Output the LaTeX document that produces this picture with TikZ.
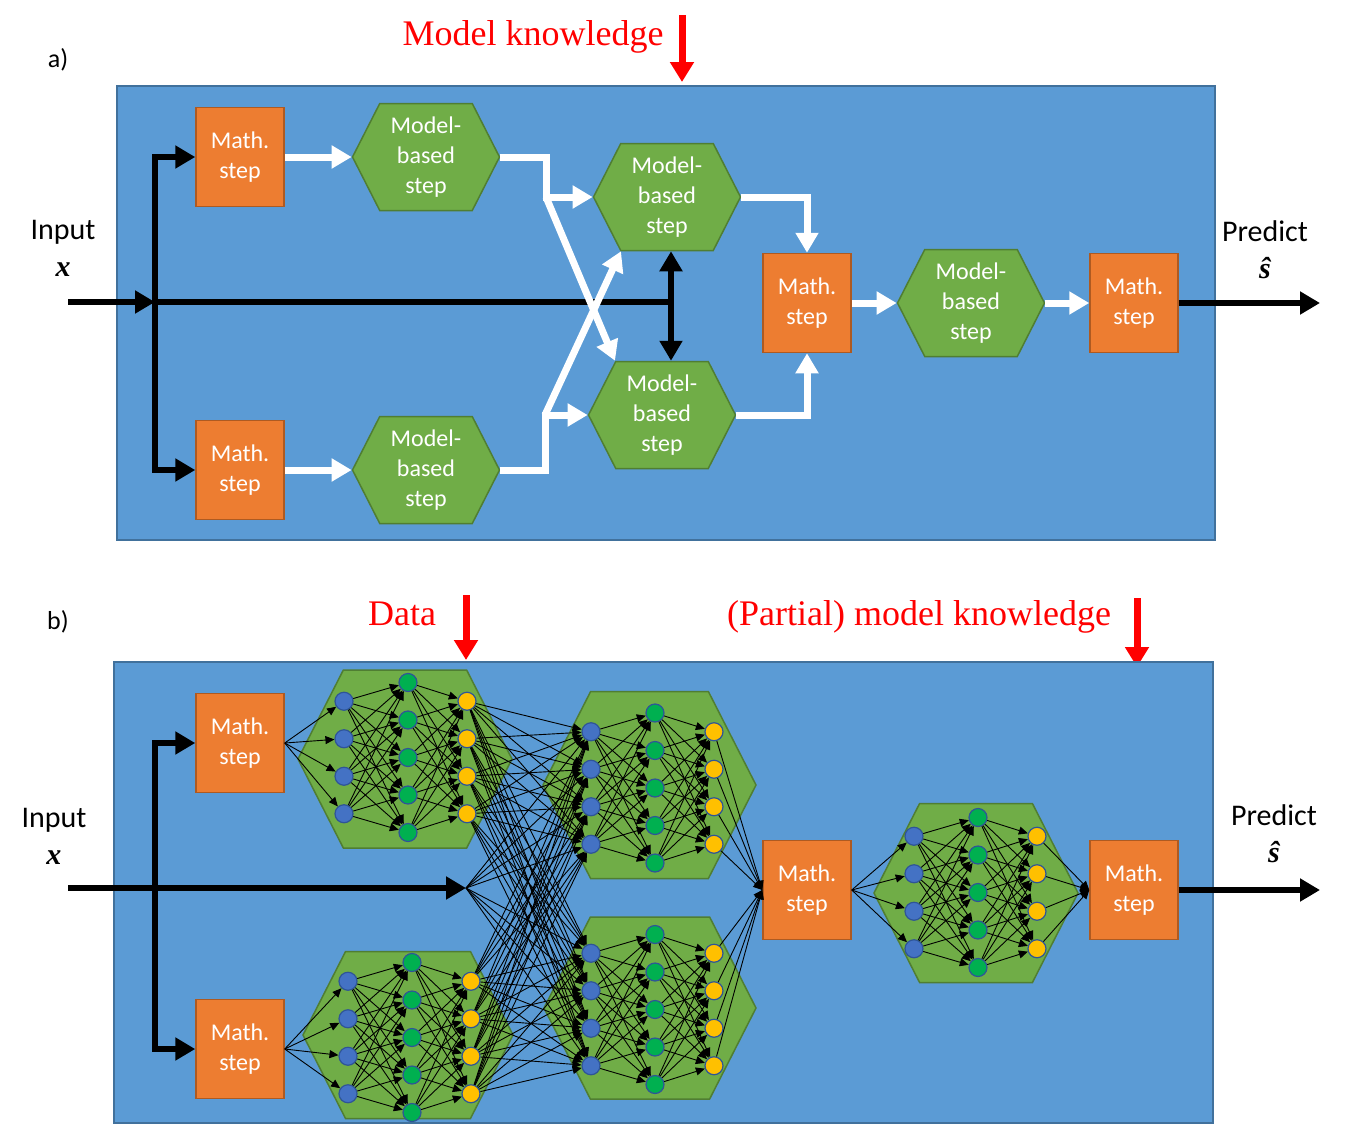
\documentclass[tikz,border=0pt]{standalone}
\usepackage{fontspec}
\setmainfont{Carlito}
\newfontfamily\knowfont{Liberation Serif}
\usetikzlibrary{arrows.meta, calc, positioning, shapes.symbols}
\definecolor{panelfill}{HTML}{5B9BD5}
\definecolor{paneledge}{HTML}{41719C}
\definecolor{mathfill}{HTML}{ED7D31}
\definecolor{mathedge}{HTML}{AE5A21}
\definecolor{hexfill}{HTML}{70AD47}
\definecolor{hexedge}{HTML}{507E32}
\definecolor{nnblue}{HTML}{4472C4}
\definecolor{nngreen}{HTML}{00B050}
\definecolor{nnyellow}{HTML}{FFC000}
\definecolor{neuronedge}{HTML}{2F5597}
\definecolor{knowred}{HTML}{FF0000}
\newcommand{\vecsym}[1]{{\knowfont\bfseries\itshape #1}}

% one small network: 4 inputs, 5 hidden, 4 outputs
\newcommand{\nnlayers}[3]{%
  \foreach \i in {1,...,4} {
    \node[neuron, fill=nnblue]   (#1in\i)  at (#2, #3-93.75+37.5*\i) {};
    \node[neuron, fill=nnyellow] (#1out\i) at (#2+123, #3-93.75+37.5*\i) {};
  }
  \foreach \j in {1,...,5}
    \node[neuron, fill=nngreen] (#1hid\j) at (#2+64, #3-112.5+37.5*\j) {};
  \foreach \i in {1,...,4}
    \foreach \j in {1,...,5} {
      \draw[link] (#1in\i) -- (#1hid\j);
      \draw[link] (#1hid\j) -- (#1out\i);
    }
}

\begin{document}
\begin{tikzpicture}[x=1pt, y=-1pt,
  panel/.style={fill=panelfill, draw=paneledge, line width=1.5pt},
  mathstep/.style={draw=mathedge, fill=mathfill, line width=1.5pt,
                   minimum width=88pt, minimum height=99pt, text=white,
                   align=center, font=\fontsize{24}{30}\selectfont},
  nnhex/.style={signal, signal to=east and west, signal pointer angle=126,
                draw=hexedge, fill=hexfill, line width=1.5pt, inner sep=0pt},
  modelstep/.style={nnhex, minimum width=147pt, minimum height=107pt,
                    text=white, align=center, font=\fontsize{24}{30}\selectfont},
  flow/.style={-{Triangle[length=20pt,width=22pt]}, line width=7pt, white},
  bflow/.style={-{Triangle[length=20pt,width=22pt]}, line width=6pt},
  bline/.style={line width=6pt},
  knowflow/.style={-{Triangle[length=20pt,width=23pt]}, line width=7pt, knowred},
  neuron/.style={circle, draw=neuronedge, line width=1.2pt, minimum size=18pt,
                 inner sep=0pt},
  link/.style={-{Triangle[length=9pt,width=8pt]}, line width=0.9pt},
  side/.style={align=center, font=\fontsize{30}{37}\selectfont},
  tag/.style={font=\fontsize{26}{30}\selectfont},
  knowtext/.style={anchor=base, text=knowred, font=\knowfont\fontsize{36}{40}\selectfont}]
  \useasboundingbox (0,0) rectangle (1345,1125);

  % a) model-based
  \node[tag] (labA) at (58,60) {a)};
  \node[knowtext] (knowA) at (533,45) {Model knowledge};
  \coordinate (knowAtop) at (682,15);
  \draw[knowflow] (knowAtop) -- ++(0,67);
  \draw[panel] (117,86) rectangle (1215,540);

  \node[mathstep] (mA1) at (240,157) {Math.\\step};
  \node[mathstep] (mA2) at (240,470) {Math.\\step};
  \node[mathstep] (mA3) at (807,303) {Math.\\step};
  \node[mathstep] (mA4) at (1134,303) {Math.\\step};
  \node[modelstep] (hA1) at (426,157) {Model-\\based\\step};
  \node[modelstep] (hA2) at (426,470) {Model-\\based\\step};
  \node[modelstep] (hA3) at (667,197) {Model-\\based\\step};
  \node[modelstep] (hA4) at (662,415) {Model-\\based\\step};
  \node[modelstep] (hA5) at (971,303) {Model-\\based\\step};

  \node[side] (inA) at (63,248) {Input\\\vecsym{x}};
  \node[side] (predA) at (1265,250) {Predict\\\vecsym{ŝ}};

  \coordinate (srcA) at (68,302);
  \coordinate (jA) at (155,302);
  \coordinate (dA) at (671,302);
  \coordinate (outA) at (1320,303);
  \coordinate (j1) at (546,197);
  \coordinate (j2) at (545,415);

  \draw[bline] (jA) -- ([xshift=3pt]dA);
  \draw[bflow] (jA) |- (mA1.west);
  \draw[bflow] (jA) |- (mA2.west);
  \draw[bflow] (srcA) -- (jA);
  \draw[{Triangle[length=20pt,width=22pt]}-{Triangle[length=20pt,width=22pt]},
        line width=6pt] (dA |- hA3.south) -- (dA |- hA4.north);

  \draw[flow] (mA1.east) -- (hA1.west);
  \draw[flow] (mA2.east) -- (hA2.west);
  \draw[flow] (hA1.east) -| (j1) -- (hA3.west);
  \draw[flow] (hA2.east) -| (j2) -- (hA4.west);
  \draw[flow] (j1) -- ($(hA4.north)+(-47,0)$);
  \draw[flow] (j2) -- ($(hA3.south)+(-46,0)$);
  \draw[flow] (hA3.east) -| (mA3.north);
  \draw[flow] (hA4.east) -| (mA3.south);
  \draw[flow] (mA3.east) -- (hA5.west);
  \draw[flow] (hA5.east) -- (mA4.west);
  \draw[bflow] (mA4.east) -- (outA);

  % b) learned steps
  \node[tag] (labB) at (58,622) {b)};
  \node[knowtext] (knowB1) at (402,625) {Data};
  \node[knowtext] (knowB2) at (919,625) {(Partial) model knowledge};
  \coordinate (knowB1top) at (466,595);
  \coordinate (knowB2top) at (1137,598);
  \draw[knowflow] (knowB1top) -- ++(0,65);
  \draw[knowflow] (knowB2top) -- ++(0,69);
  \draw[panel] (114,662) rectangle (1213,1123);

  \node[mathstep] (mB1) at (240,743) {Math.\\step};
  \node[mathstep] (mB2) at (240,1049) {Math.\\step};
  \node[mathstep] (mB3) at (807,890) {Math.\\step};
  \node[mathstep] (mB4) at (1134,890) {Math.\\step};
  \node[nnhex, minimum width=214pt, minimum height=178pt] (nn1) at (405,759) {};
  \node[nnhex, minimum width=213pt, minimum height=187pt] (nn2) at (649.5,785) {};
  \node[nnhex, minimum width=210pt, minimum height=167pt] (nn3) at (408,1035) {};
  \node[nnhex, minimum width=212pt, minimum height=182pt] (nn4) at (650,1008) {};
  \node[nnhex, minimum width=204pt, minimum height=179pt] (nn5) at (976,893) {};
  \nnlayers{n1}{344}{757.5}
  \nnlayers{n2}{591}{788}
  \nnlayers{n3}{348}{1037.5}
  \nnlayers{n4}{591}{1009.5}
  \nnlayers{n5}{914}{892.5}

  \node[side] (inB) at (54,836) {Input\\\vecsym{x}};
  \node[side] (predB) at (1274,834) {Predict\\\vecsym{ŝ}};

  \coordinate (srcB) at (68,888);
  \coordinate (jB) at (155,888);
  \coordinate (tipB) at (466,888);
  \coordinate (outB) at (1320,890);
  \draw[bflow] (jB) |- (mB1.west);
  \draw[bflow] (jB) |- (mB2.west);
  \draw[bflow] (srcB) -- (tipB);
  \draw[bflow] (mB4.east) -- (outB);

  \foreach \i in {1,...,4} {
    \draw[link] (mB1.east) -- (n1in\i);
    \draw[link] (mB2.east) -- (n3in\i);
    \draw[link] (mB3.east) -- (n5in\i);
    \draw[link] (tipB) -- (n2in\i);
    \draw[link] (tipB) -- (n4in\i);
    \draw[link] (n2out\i) -- (mB3.west);
    \draw[link] (n4out\i) -- (mB3.west);
    \draw[link] (n5out\i) -- (mB4.west);
    \foreach \k in {1,...,4} {
      \draw[link] (n1out\i) -- (n2in\k);
      \draw[link] (n1out\i) -- (n4in\k);
      \draw[link] (n3out\i) -- (n2in\k);
      \draw[link] (n3out\i) -- (n4in\k);
    }
  }
\end{tikzpicture}
\end{document}
